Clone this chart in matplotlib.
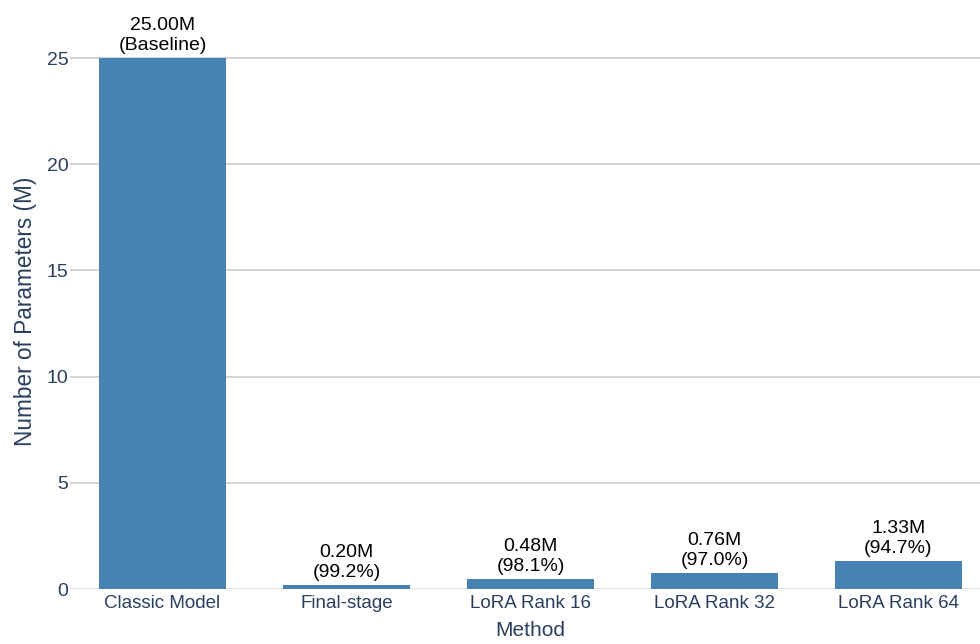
import matplotlib
matplotlib.use("Agg")
import matplotlib.pyplot as plt

methods = ["Classic Model", "Final-stage", "LoRA Rank 16", "LoRA Rank 32", "LoRA Rank 64"]
params_m = [25.00, 0.20, 0.48, 0.76, 1.33]
baseline = params_m[0]

plt.rcParams["font.family"] = ["Liberation Sans", "DejaVu Sans"]

BAR = "#4682B4"
AXIS_TEXT = "#2a3f5f"

fig = plt.figure(figsize=(9.8, 6.44), dpi=100)
ax = fig.add_axes([0.0719, 0.0854, 0.9388, 0.899])

x = list(range(len(methods)))
ax.bar(x, params_m, width=0.69, color=BAR, zorder=3)

for xi, v in zip(x, params_m):
    if v == baseline:
        note = "(Baseline)"
    else:
        note = "({:.1f}%)".format((1 - v / baseline) * 100)
    ax.annotate("{:.2f}M\n{}".format(v, note), (xi, v), xytext=(0, 3),
                textcoords="offset points", ha="center", va="bottom",
                fontsize=14, color="black", linespacing=1.22, zorder=4)

ax.set_xlim(-0.5, len(methods) - 0.5)
ax.set_ylim(0, 27.26)
ax.set_yticks([0, 5, 10, 15, 20, 25])
ax.set_xticks(x)
ax.set_xticklabels(methods)

ax.grid(axis="y", color="#cccccc", linewidth=1.2, zorder=0)
ax.axhline(0, color="#dfe5ee", linewidth=1.6, zorder=2)
for s in ax.spines.values():
    s.set_visible(False)

ax.tick_params(axis="x", length=0, pad=4, labelsize=13.5, labelcolor=AXIS_TEXT)
ax.tick_params(axis="y", length=0, pad=1.5, labelsize=14, labelcolor=AXIS_TEXT)

ax.set_xlabel("Method", fontsize=15, color=AXIS_TEXT, labelpad=7)
ax.set_ylabel("Number of Parameters (M)", fontsize=16.3, color=AXIS_TEXT)
ax.yaxis.set_label_coords(-0.036, 0.48)

fig.savefig("out.png", dpi=100)
